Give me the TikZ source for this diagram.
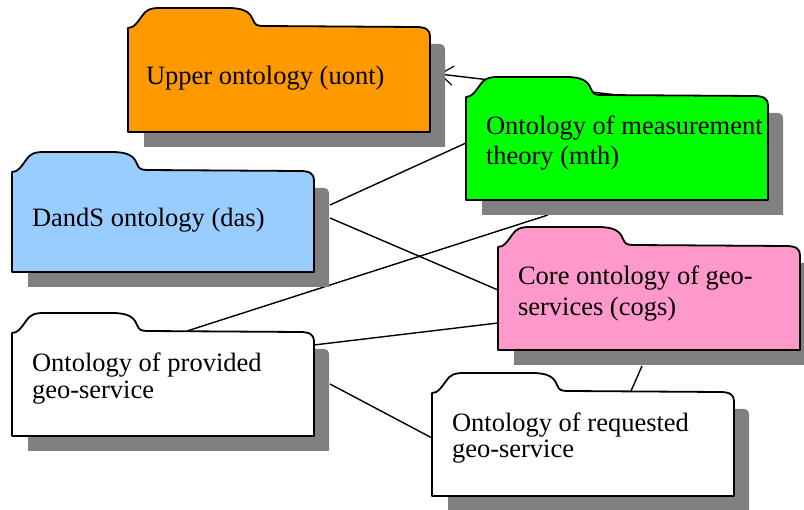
\documentclass[tikz,border=0pt]{standalone}
\usepackage{fontspec}
\setmainfont{Liberation Serif}
\usetikzlibrary{calc,arrows.meta}

\definecolor{uontfill}{HTML}{FF9900}
\definecolor{mthfill}{HTML}{00FF00}
\definecolor{dasfill}{HTML}{99CCFF}
\definecolor{cogsfill}{HTML}{FF99CC}
\definecolor{shadowfill}{HTML}{808080}

\tikzset{
  folderline/.style={draw=black, line width=1.8pt, line join=round},
  anchorbox/.style={inner sep=0pt, outer sep=0pt, draw=none},
  conn/.style={draw=black, line width=1.4pt},
  lbl/.style={inner sep=0pt, outer sep=0pt, anchor=base west, font=\fontsize{26.5}{30}\selectfont},
}

% Named boxes of a folder: #1 name, #2 x, #3 y (top of tab), #4 total height
\newcommand{\folderanchors}[4]{%
  \begin{scope}[shift={(#2,#3)}]
    \node[anchorbox, minimum width=301pt, minimum height={(#4-21)*1pt}, anchor=north west]
      (#1-sh) at (16,36) {};
    \node[anchorbox, minimum width=302pt, minimum height={(#4-18)*1pt}, anchor=north west]
      (#1) at (0,18) {};
  \end{scope}}

% Folder drawing: #1 x, #2 y (top of tab), #3 total height, #4 fill colour
\newcommand{\folderdraw}[4]{%
  \begin{scope}[shift={(#1,#2)}]
    % drop shadow
    \fill[shadowfill] (16,36) -- (311,36) .. controls (315,36) and (317,38) .. (317,42)
      -- (317,#3+15) -- (16,#3+15) -- cycle;
    % folder with tab
    \path[folderline, fill=#4] (0,#3) -- (0,20)
      .. controls (6,20) and (9,15) .. (14,8)
      .. controls (18,2) and (22,0) .. (32,0) -- (100,0)
      .. controls (116,0) and (122,4) .. (125,12)
      .. controls (127,17) and (129,18) .. (136,18) -- (288,19)
      .. controls (298,19) and (302,22) .. (302,28) -- (302,#3) -- cycle;
  \end{scope}}

\begin{document}
\begin{tikzpicture}[x=1pt, y=-1pt]
  \clip (0,0) rectangle (804,510);
  \fill[white] (0,0) rectangle (804,510);

  % folder outlines as named nodes
  \folderanchors{uont}{128}{8}{124}
  \folderanchors{mth}{466}{77}{123}
  \folderanchors{das}{12}{152}{120}
  \folderanchors{cogs}{498}{227}{123}
  \folderanchors{prov}{12}{313}{123}
  \folderanchors{req}{432}{373}{123}

  % connectors, drawn beneath the folders
  \draw[conn, -{Straight Barb[length=13pt, width=19pt, line width=1.2pt]}]
    (mth.north) -- ($(uont-sh.east)+(-6,-21.5)$);
  \draw[conn] ($(das-sh.east)+(1,-32.5)$) -- ($(mth.west)+(0,-4.5)$);
  \draw[conn] ($(das-sh.east)+(1,-19.5)$) -- ($(cogs.west)+(0,-7.5)$);
  \draw[conn] ($(prov.north)+(24,0)$) -- ($(mth-sh.south)+(-84.5,0)$);
  \draw[conn] ($(prov.east)+(0,-38.5)$) -- ($(cogs.west)+(0,25.5)$);
  \draw[conn] ($(prov-sh.east)+(1,-16)$) -- ($(req.west)+(0,-5.5)$);
  \draw[conn] ($(req.north)+(48,0)$) -- ($(cogs-sh.south)+(-22.5,1)$);

  % folders
  \folderdraw{128}{8}{124}{uontfill}
  \folderdraw{466}{77}{123}{mthfill}
  \folderdraw{12}{152}{120}{dasfill}
  \folderdraw{498}{227}{123}{cogsfill}
  \folderdraw{12}{313}{123}{white}
  \folderdraw{432}{373}{123}{white}

  % labels
  \node[lbl] (uont-t) at ($(uont.north west)+(18,59)$) {Upper ontology (uont)};
  \node[lbl] (das-t) at ($(das.north west)+(20,57)$) {DandS ontology (das)};
  \node[lbl] (mth-t) at ($(mth.north west)+(20,40)$)
    {\parbox[t]{300pt}{\fontsize{26.5}{30}\selectfont Ontology of measurement\\theory (mth)}};
  \node[lbl] (cogs-t) at ($(cogs.north west)+(20,40)$)
    {\parbox[t]{300pt}{\fontsize{26.5}{31}\selectfont Core ontology of geo-\\services (cogs)}};
  \node[lbl] (prov-t) at ($(prov.north west)+(20,41)$)
    {\parbox[t]{300pt}{\fontsize{26.5}{27}\selectfont Ontology of provided\\geo-service}};
  \node[lbl] (req-t) at ($(req.north west)+(20,41)$)
    {\parbox[t]{300pt}{\fontsize{26.5}{26}\selectfont Ontology of requested\\geo-service}};
\end{tikzpicture}
\end{document}
